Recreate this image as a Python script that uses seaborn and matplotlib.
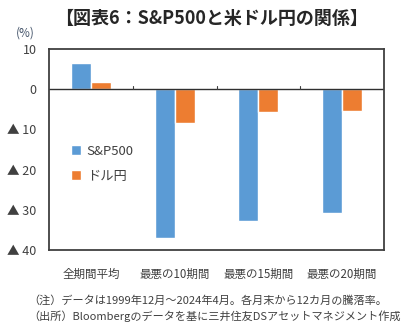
import matplotlib
matplotlib.use("Agg")
import matplotlib.pyplot as plt
import seaborn as sns
import pandas as pd

categories = ["全期間平均", "最悪の10期間", "最悪の15期間", "最悪の20期間"]
series_names = ["S&P500", "ドル円"]
sp500 = [6.5, -36.9, -32.9, -30.7]
usdjpy = [1.8, -8.4, -5.7, -5.4]
yticks = [10, 0, -10, -20, -30, -40]
ytick_labels = ["10", "0", "▲ 10", "▲ 20", "▲ 30", "▲ 40"]

df = pd.DataFrame({
    "cat": categories * 2,
    "series": [series_names[0]] * 4 + [series_names[1]] * 4,
    "value": sp500 + usdjpy,
})

sns.set_theme(style="white")
plt.rcParams['font.family'] = ['Noto Sans CJK JP', 'DejaVu Sans']

fig = plt.figure(figsize=(4.02, 3.33), dpi=100)
ax = fig.add_axes([49/402, 1-250/333, (384-49)/402, (250-49)/333])

palette = {"S&P500": "#5B9BD5", "ドル円": "#ED7D31"}
sns.barplot(data=df, x="cat", y="value", hue="series", palette=palette,
            width=0.48, gap=0, saturation=1, ax=ax, legend=True)

ax.set_ylim(-40, 10)
ax.set_xlim(-0.5, 3.5)
ax.set_yticks(yticks)
ax.set_yticklabels(ytick_labels, fontsize=9, color="#404040")
ax.tick_params(axis="y", direction="in", length=3, width=0.8, color="#404040", pad=9)
ax.set_xticks(range(4))
ax.set_xticklabels(categories, fontsize=8.3, color="#404040")
ax.tick_params(axis="x", length=0, pad=13)
ax.set_xlabel("")
ax.set_ylabel("")

for s in ax.spines.values():
    s.set_color("#404040")
    s.set_linewidth(1.3)

ax.axhline(0, color="#303030", linewidth=1.0)
for xb in [0.5, 1.5, 2.5]:
    ax.plot([xb, xb], [0, 0.8], color="#404040", linewidth=0.8)

leg = ax.legend(loc="center left", bbox_to_anchor=(0.03, 0.43), frameon=False,
                fontsize=9.5, handlelength=0.8, handleheight=0.8, handletextpad=0.4,
                labelspacing=0.9)
for t in leg.get_texts():
    t.set_color("#404040")

fig.text(0.525, 0.945, "【図表6：S&P500と米ドル円の関係】", ha="center", va="center",
         fontsize=13, fontweight="bold", color="#262626")
fig.text(25/402, 1-33/333, "(%)", ha="center", va="center", fontsize=8.5, color="#44546A")
fig.text(28/402, 1-300/333, "（注）データは1999年12月～2024年4月。各月末から12カ月の騰落率。",
         ha="left", va="center", fontsize=8, color="#404040")
fig.text(28/402, 1-316/333, "（出所）Bloombergのデータを基に三井住友DSアセットマネジメント作成",
         ha="left", va="center", fontsize=8, color="#404040")

fig.savefig("out.png", dpi=100)
